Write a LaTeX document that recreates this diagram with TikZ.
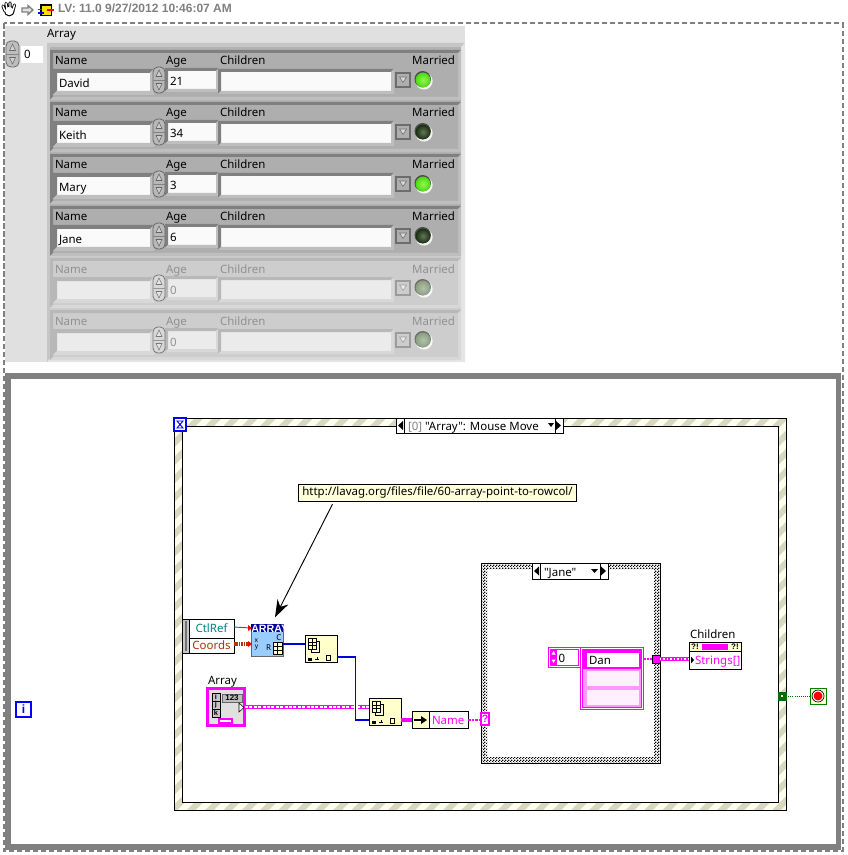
\documentclass[tikz,border=0pt]{standalone}
\usepackage{fontspec}
\setmainfont{Noto Sans}
\newfontfamily\nf{Noto Sans}
\newfontfamily\hb{Liberation Sans}
\usetikzlibrary{patterns,patterns.meta,arrows.meta,calc}
\definecolor{mag}{HTML}{FF00FF}
\definecolor{cream}{HTML}{FFFFCC}
\definecolor{stripe}{HTML}{D8D8C0}
\definecolor{stripebg}{HTML}{FFFFF0}
\definecolor{panel}{HTML}{E0E0E0}
\definecolor{gtxt}{HTML}{808080}
\definecolor{lvblue}{HTML}{0000FF}
\definecolor{wireb}{HTML}{0000DC}
\definecolor{navyb}{HTML}{000099}
\definecolor{subbg}{HTML}{99CCFF}
\definecolor{tealc}{HTML}{008282}
\definecolor{tealw}{HTML}{007878}
\definecolor{brownc}{HTML}{AA3200}
\definecolor{brownw}{HTML}{AA3C0A}
\definecolor{lgreen}{HTML}{006E00}
\definecolor{lgreenb}{HTML}{008200}
\definecolor{pinkbg}{HTML}{FF99FF}
\definecolor{pinkel}{HTML}{FFF0FF}
\pgfdeclarepatternformonly{chk}{\pgfqpoint{0pt}{0pt}}{\pgfqpoint{2pt}{2pt}}{\pgfqpoint{2pt}{2pt}}{%
  \pgfpathrectangle{\pgfqpoint{0pt}{0pt}}{\pgfqpoint{1pt}{1pt}}%
  \pgfpathrectangle{\pgfqpoint{1pt}{1pt}}{\pgfqpoint{1pt}{1pt}}%
  \pgfusepath{fill}}
\newcommand{\bevelbox}[8]{%
  \fill[#6] (#1,#2) rectangle (#3,#4);
  \fill[#7] (#1,#2)--(#3,#2)--({#3-#5},{#2+#5})--({#1+#5},{#2+#5})--({#1+#5},{#4-#5})--(#1,#4)--cycle;
  \fill[#8] (#3,#4)--(#1,#4)--({#1+#5},{#4-#5})--({#3-#5},{#4-#5})--({#3-#5},{#2+#5})--(#3,#2)--cycle;
}
\newcommand{\spin}[5]{% x0 y0 x1 y1 col
  \draw[#5!55!black,fill=#5,line width=.6pt,rounded corners=3.6pt] (#1,#2) rectangle (#3,#4);
  \draw[#5!70!black,line width=.4pt] (#1,{(#2+#4)/2}) -- (#3,{(#2+#4)/2});
  \draw[#5!55!black,fill=#5!70!white,line width=.4pt] ({(#1+#3)/2-3},{(#2+#4)/2-3.5}) -- ({(#1+#3)/2+3},{(#2+#4)/2-3.5}) -- ({(#1+#3)/2},{(#2+#4)/2-10}) -- cycle;
  \draw[#5!55!black,fill=#5!70!white,line width=.4pt] ({(#1+#3)/2-3},{(#2+#4)/2+3.5}) -- ({(#1+#3)/2+3},{(#2+#4)/2+3.5}) -- ({(#1+#3)/2},{(#2+#4)/2+10}) -- cycle;
}
% block node with pixel corners
\newcommand{\blk}[6]{%
  \pgfmathsetmacro{\bw}{(#4-#2)*0.75}\pgfmathsetmacro{\bh}{(#5-#3)*0.75}
  \node[inner sep=0,outer sep=0,minimum width=\bw pt,minimum height=\bh pt,#6] (#1) at ({(#2+#4)/2},{(#3+#5)/2}) {};
}
\newcommand{\idxicon}[2]{% at block left,top
  \begin{scope}[shift={(#1,#2)}]
    \draw[line width=.6pt,fill=cream] (6,6) rectangle (14,17);
    \draw[line width=.6pt,fill=cream] (3,3) rectangle (11,14);
    \draw[line width=.5pt] (3,7) -- (11,7) (3,10.5) -- (11,10.5) (7,3) -- (7,14);
    \fill (3,23) rectangle (7,25.5);
    \draw[line width=.6pt] (10,24) -- (14,24) (12,21.5) -- (12,25);
    \draw[line width=.7pt] (21,20) rectangle (25.5,25);
  \end{scope}
}
\tikzset{
  lab/.style={inner sep=0,outer sep=0,anchor=base west,font=\fontsize{8.6}{10}\selectfont},
  wirepink/.style={preaction={draw=mag,line width=3.2pt},draw=white,line width=1pt,dash pattern=on 2.2pt off 1.1pt},
  wirechain/.style={preaction={draw=mag,line width=2.6pt},draw=white,line width=.8pt,dash pattern=on 1pt off 1.6pt},
  wirethin/.style={draw=mag,line width=1pt,dash pattern=on 2pt off .8pt},
  wireblue/.style={draw=wireb,line width=.9pt},
  wirebluet/.style={draw=wireb,line width=2.2pt},
  ln/.style={draw=black,line width=.7pt}
}
\begin{document}
\begin{tikzpicture}[x=0.75pt,y=-0.75pt]
\useasboundingbox (0,0) rectangle (847,855);
\fill[white] (0,0) rectangle (847,855);
% --- top bar
\begin{scope}
  \draw[black,line width=2.4pt,line cap=round] (5,11)--(3,6) (7,9)--(6,3.5) (10,9)--(10,3) (13,10)--(14.5,5);
  \fill[black] (9.3,11) circle (5.4);
  \fill[white] (9.3,11) circle (4.2);
  \draw[white,line width=1.1pt,line cap=round] (5,11)--(3,6) (7,9)--(6,3.5) (10,9)--(10,3) (13,10)--(14.5,5);
  \draw[gray,fill=panel,line width=1pt] (22,8)--(28,8)--(28,5.5)--(33,10)--(28,14.5)--(28,12)--(22,12)--cycle;
  \fill[black] (40,4) rectangle (52,16);
  \fill[yellow!85!orange] (42,6) rectangle (51,15);
  \draw[red,line width=.8pt] (38,9.5)--(42,9.5) (47,10)--(54,10);
  \draw[blue,line width=.8pt] (38,13)--(44,13);
\end{scope}
\node[lab,anchor=base west,text=gtxt,font=\hb\fontsize{9}{10}\selectfont\bfseries] (title) at (58,12.5) {LV: 11.0 9/27/2012 10:46:07 AM};
% --- front panel
\fill[panel] (5,26) rectangle (465,362);
\fill[white] (21,46) rectangle (43,63);
\spin{6}{41}{19}{67}{panel!85!black}
\node[lab] (idxval) at (24,59) {0};
\node[lab] (arrlab) at (47,38) {Array};
\bevelbox{47}{43}{465}{362}{4}{panel}{gray!45}{panel!85}
\fill[black!30] (50,47) rectangle (461,255);
\fill[black!20] (50,255) rectangle (461,358);
\foreach \i/\nm/\ag/\led/\ledb/\rowc/\dark/\light/\fld/\tc/\spc in {%
  0/David/21/72F21A/4ADB10/AEAEAE/808080/BEBEBE/FAFAFA/000000/B8B8B8,
  1/Keith/34/2E4A1E/1A2E10/AEAEAE/808080/BEBEBE/FAFAFA/000000/B8B8B8,
  2/Mary/3/72F21A/4ADB10/AEAEAE/808080/BEBEBE/FAFAFA/000000/B8B8B8,
  3/Jane/6/2E4A1E/1A2E10/AEAEAE/808080/BEBEBE/FAFAFA/000000/B8B8B8,
  4/{}/0/9AAE90/8A9E80/CDCDCD/B8B8B8/D8D8D8/EBEBEB/919191/D8D8D8,
  5/{}/0/9AAE90/8A9E80/CDCDCD/B8B8B8/D8D8D8/EBEBEB/919191/D8D8D8}{
  \definecolor{rowc}{HTML}{\rowc}\definecolor{rdark}{HTML}{\dark}\definecolor{rlight}{HTML}{\light}
  \definecolor{fldc}{HTML}{\fld}\definecolor{tcol}{HTML}{\tc}\definecolor{spcol}{HTML}{\spc}
  \definecolor{ledc}{HTML}{\led}\definecolor{ledo}{HTML}{\ledb}
  \begin{scope}[shift={(0,52*\i)}]
    \bevelbox{50}{50}{461}{100}{3}{rowc}{rdark}{rlight}
    \node[lab,text=tcol] (nl\i) at (55,65) {Name};
    \node[lab,text=tcol] (al\i) at (166,65) {Age};
    \node[lab,text=tcol] (cl\i) at (220,65) {Children};
    \node[lab,text=tcol,anchor=base east] (ml\i) at (455,65) {Married};
    \bevelbox{53}{69}{154}{95}{4}{fldc}{rdark}{rlight}
    \bevelbox{165}{68}{219}{92}{3}{fldc}{rdark}{rlight}
    \bevelbox{218}{69}{394}{94}{3}{fldc}{rdark}{rlight}
    \spin{153}{67}{165}{93}{spcol}
    \node[lab,text=tcol] (nv\i) at (59,88) {\nm};
    \node[lab,text=tcol] (av\i) at (170,86) {\ag};
    \draw[rdark!85!black,fill=rowc,line width=.9pt] (396,73) rectangle (410,87);
    \draw[rdark!85!black,fill=rlight!60!white,line width=.4pt] (399.5,77) -- (406.5,77) -- (403,82.5) -- cycle;
    \fill[white!85!rowc] (424,81) circle (8.6);
    \fill[rdark!60!black] (422.7,79.2) circle (8.2);
    \shade[inner color=ledc!75!white,outer color=ledo] (423,80) circle (7.4);
  \end{scope}
}
% --- diagram frame
\draw[gtxt,line width=4.3pt] (8,376) rectangle (838.5,847);
% --- dashed outer
\draw[gtxt,line width=1.5pt,dash pattern=on 3.8pt off 2.2pt] (4,23.5) rectangle (842.5,850.5);
% --- event structure
\fill[stripebg,even odd rule] (174,418) rectangle (786,810) (182,426) rectangle (778,802);
\fill[even odd rule,pattern={Lines[angle=45,distance=9.7pt,line width=4.6pt]},pattern color=stripe] (174,418) rectangle (786,810) (182,426) rectangle (778,802);
\draw[ln] (174,418) rectangle (786,810) (182,426) rectangle (778,802);
\blk{evtsel}{396}{418}{563}{433}{ln,fill=white}
\draw[ln] (404,418)--(404,433) (555,418)--(555,433);
\fill (398,425.5)--(403,421)--(403,430)--cycle;
\fill (561,425.5)--(556,421)--(556,430)--cycle;
\fill (548,423)--(554,423)--(551,427)--cycle;
\node[lab] (evttxt) at (408,430) {\nf\textcolor{gray}{[0]} "Array": Mouse Move};
\blk{hour}{174}{418}{186}{431}{draw=lvblue,line width=1.2pt,fill=white}
\draw[blue,line width=.7pt] (177,421)--(183,421)--(177,428)--(183,428)--cycle;
\blk{iter}{16}{702}{31}{717}{draw=lvblue,line width=1.2pt,fill=white}
\node[font=\hb\fontsize{9}{10}\selectfont\bfseries,text=blue,inner sep=0] (itxt) at (23.5,709.5) {i};
% comment
\node[ln,fill=cream!70!white,inner sep=0,minimum width=209pt,minimum height=12.8pt,text height=7pt,text depth=2pt,font=\fontsize{8.6}{10}\selectfont] (cmt) at (437.5,492.5) {http://lavag.org/files/file/60-array-point-to-rowcol/};
% --- case structure
\fill[white,even odd rule] (481,563) rectangle (660,763) (487,569) rectangle (654,757);
\fill[even odd rule,pattern=chk,pattern color=black] (481,563) rectangle (660,763) (487,569) rectangle (654,757);
\draw[ln] (481,563) rectangle (660,763);
\blk{casesel}{532}{563}{608}{579}{ln,fill=white}
\draw[ln] (540,563)--(540,579) (600,563)--(600,579);
\fill (534,571)--(539,566.5)--(539,575.5)--cycle;
\fill (606,571)--(601,566.5)--(601,575.5)--cycle;
\fill (591,569)--(598,569)--(594.5,573)--cycle;
\node[lab] (casetxt) at (544,576) {\nf"Jane"};
% --- event data node
\fill[gray!45] (182,619) rectangle (189,653);
\fill[gray!110] (184.5,621) rectangle (187,651);
\draw[black,line width=.4pt] (182,619) rectangle (189,653);
\blk{ctl}{189}{619}{234}{638}{ln,fill=white}
\blk{crd}{189}{638}{234}{653}{ln,fill=white}
\node[lab,text=tealc,anchor=base] (ctltxt) at (211.5,632) {CtlRef};
\node[lab,text=brownc,anchor=base] (crdtxt) at (211.5,649) {Coords};
% --- subVI
\blk{subvi}{251}{624}{283}{656}{draw=black!60,line width=.6pt,fill=subbg}
\fill[navyb] (251,624) rectangle (283,632);
\begin{scope}
  \clip (251,624) rectangle (283,632);
  \node[inner sep=0,anchor=west,text=white,font=\hb\fontsize{8}{8}\selectfont\bfseries] (subt) at (251,628.5) {ARRAY};
\end{scope}
\node[inner sep=0,font=\fontsize{5}{5}\selectfont] (subx) at (256.5,640.5) {x};
\node[inner sep=0,font=\fontsize{5}{5}\selectfont] (suby) at (256.5,647.5) {y};
\node[inner sep=0,font=\fontsize{6}{6}\selectfont] (subc) at (279,637.5) {C};
\node[inner sep=0,font=\fontsize{6}{6}\selectfont] (subr) at (268.5,647.5) {R};
\draw[black,line width=.5pt,fill=cream] (273,642) rectangle (282,654);
\draw[black,line width=.5pt] (273,646)--(282,646) (273,650)--(282,650) (277.5,642)--(277.5,654);
% --- index nodes
\blk{idxa}{305}{635}{337}{662}{ln,fill=cream}
\idxicon{305}{635}
\blk{idxb}{369}{698}{401}{725}{ln,fill=cream}
\idxicon{369}{698}
% --- Array terminal
\node[lab] (arrterm) at (208,684) {Array};
\blk{arr}{208}{689}{244}{725}{draw=mag,line width=2.2pt,fill=panel}
\draw[mag,line width=.5pt] (206.5,687.5) rectangle (245.5,726.5);
\foreach \yy/\ll in {693/i,701/j,709/k}{
  \draw[black,line width=.5pt,fill=gray!45] (212,\yy) rectangle (220,\yy+8);
  \node[inner sep=0,font=\hb\fontsize{5.5}{6}\selectfont\bfseries] (t\ll) at (216,\yy+4) {\ll};
}
\draw[black!60,line width=.5pt,fill=gray!50] (222,694) rectangle (242,702);
\node[inner sep=0,font=\hb\fontsize{6}{6}\selectfont\bfseries] (t123) at (232,698) {123};
\fill[white,draw=black,line width=.4pt] (239,703)--(244,707.5)--(239,712)--cycle;
\draw[mag,line width=1pt,fill=white] (219,719) rectangle (232,723);
% --- unbundle
\blk{unb}{412}{711}{468}{728}{ln,fill=white}
\fill[cream] (412.5,711.5) rectangle (429,727.5);
\draw[ln] (429,711)--(429,728);
\draw[black,line width=1.4pt] (414,720)--(422,720);
\fill (421,716)--(427,720)--(421,724)--cycle;
\node[lab,text=mag] (nametxt) at (432,724) {Name};
\blk{sel}{481}{713}{489}{725}{draw=mag,line width=.8pt,fill=white}
\node[inner sep=0,text=mag,font=\hb\fontsize{8}{8}\selectfont\bfseries] (seltxt) at (485,719) {?};
% --- array constant
\blk{num}{548}{647}{580}{667}{draw=mag,line width=.7pt,fill=white}
\draw[mag,line width=.7pt] (550,649) rectangle (578,665);
\fill[mag] (550,649) rectangle (557,665);
\fill[white] (553.5,651)--(551.5,654.5)--(555.5,654.5)--cycle (553.5,663)--(551.5,659.5)--(555.5,659.5)--cycle;
\node[lab] (numtxt) at (558.5,662) {0};
\blk{arc}{580}{647}{643}{709}{draw=mag,line width=.7pt,fill=white}
\draw[mag,line width=.7pt,fill=pinkbg] (582,649) rectangle (641,707);
\fill[mag] (582,649) rectangle (641,669);
\blk{dan}{587}{653}{639}{667}{fill=white}
\fill[pinkel] (587,671) rectangle (639,686);
\fill[pinkel] (587,690) rectangle (639,705);
\node[lab] (dantxt) at (589,664) {Dan};
\blk{tun}{652}{655}{660}{663}{draw=black,line width=.5pt,fill=mag}
% --- Children indicator
\node[lab] (chlab) at (690,638) {Children};
\blk{ch}{689}{642}{741}{669}{ln,fill=white}
\fill[cream] (689.5,642.5) rectangle (740.5,651);
\draw[ln] (689,651)--(741,651);
\fill[mag] (702,644) rectangle (728,650);
\node[inner sep=0,font=\hb\fontsize{6}{6}\selectfont\bfseries] (q1) at (695,646.5) {?!};
\node[inner sep=0,font=\hb\fontsize{6}{6}\selectfont\bfseries] (q2) at (735,646.5) {?!};
\fill (691,656.5)--(694,660)--(691,663.5)--cycle;
\node[lab,text=mag] (strtxt) at (695,664) {Strings[]};
% --- loop condition
\blk{lc}{778}{692}{786}{700}{draw=lgreen,line width=.6pt,fill=lgreen}
\fill[white] (781,695) rectangle (783,697);
\blk{stp}{810}{688}{826}{704}{draw=lgreenb,line width=.6pt,fill=cream}
\draw[black,line width=.5pt,fill=white] (818,696) circle (6);
\fill[red] (818,696) circle (4.5);
% --- connectors
\coordinate (ctlout) at (234,627);
\coordinate (crdout) at (234,644);
\draw[draw=tealw,line width=.7pt] (ctlout) -- (subvi.west |- 0,628);
\draw[draw=brownw,line width=2.6pt,dash pattern=on 1.2pt off .6pt] (crdout) -- (subvi.west |- crdout);
\fill[red] (248,625)--(252,628)--(248,631)--cycle (248,641)--(252,644)--(248,647)--cycle;
\draw[wirebluet] (subvi.east |- crdout) -- (idxa.west |- crdout);
\coordinate (ain) at (245,707);
\draw[wirepink] (ain) -- (354,707);
\draw[wirepink] (357.5,707) -- (idxb.west |- ain);
\coordinate (aout) at (337,657);
\coordinate (bin) at (369,720);
\draw[wireblue] (aout) -- (355.5,657) -- (355.5,720) -- (bin);
\draw[mag,line width=3pt] (idxb.east |- bin) -- (unb.west |- bin);
\draw[wirethin] (unb.east |- bin) -- (sel.west |- bin);
\coordinate (tunc) at (656,659);
\draw[wirethin] (arc.east |- tunc) -- (tun.west);
\draw[wirechain] (tun.east) -- (ch.west |- tun.east);
\draw[lgreen,line width=.7pt,dash pattern=on .8pt off .8pt] (lc.east) -- (stp.west);
\draw[black,line width=.7pt,-{Stealth[length=13pt,width=9pt]}] ([xshift=-78.75pt,yshift=-2pt]cmt.south) -- ([xshift=6pt,yshift=5pt]subvi.north);
\end{tikzpicture}
\end{document}
